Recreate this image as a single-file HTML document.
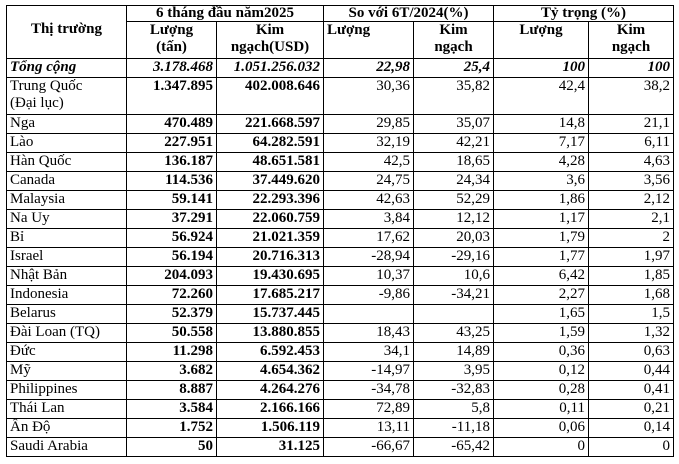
<!DOCTYPE html>
<html><head><meta charset="utf-8"><style>
html,body{margin:0;padding:0;background:#fff;width:679px;height:464px;overflow:hidden}
table{position:absolute;left:6px;top:5px;border-collapse:collapse;table-layout:fixed;font-family:"Liberation Serif",serif;font-size:15px;color:#000}
td{border:1px solid #000;padding:0 3px;line-height:17px;vertical-align:top;white-space:nowrap;overflow:hidden}
.h{font-weight:bold;text-align:center}
.r{text-align:right}
.b{font-weight:bold}
.t td{font-weight:bold;font-style:italic}
tr.n td{height:18px}
</style></head><body>
<table>
<colgroup><col style="width:120px"><col style="width:90px"><col style="width:107px"><col style="width:90px"><col style="width:80px"><col style="width:95px"><col style="width:85px"></colgroup>
<tr style="height:16px"><td rowspan="2" class="h" style="vertical-align:middle;padding-bottom:6px">Thị trường</td><td colspan="2" class="h" style="line-height:15px">6 tháng đầu năm2025</td><td colspan="2" class="h" style="line-height:15px">So với 6T/2024(%)</td><td colspan="2" class="h" style="line-height:15px">Tỷ trọng (%)</td></tr>
<tr style="height:37px"><td class="h">Lượng<br>(tấn)</td><td class="h">Kim<br>ngạch(USD)</td><td class="b" style="text-align:left">Lượng</td><td class="h">Kim<br>ngạch</td><td class="h">Lượng</td><td class="h">Kim<br>ngạch</td></tr>
<tr class="t n" style="height:18px"><td>Tổng cộng</td><td class="r">3.178.468</td><td class="r">1.051.256.032</td><td class="r">22,98</td><td class="r">25,4</td><td class="r">100</td><td class="r">100</td></tr>
<tr style="height:37px"><td>Trung Quốc<br>(Đại lục)</td><td class="r b">1.347.895</td><td class="r b">402.008.646</td><td class="r">30,36</td><td class="r">35,82</td><td class="r">42,4</td><td class="r">38,2</td></tr>
<tr class="n"><td>Nga</td><td class="r b">470.489</td><td class="r b">221.668.597</td><td class="r">29,85</td><td class="r">35,07</td><td class="r">14,8</td><td class="r">21,1</td></tr>
<tr class="n"><td>Lào</td><td class="r b">227.951</td><td class="r b">64.282.591</td><td class="r">32,19</td><td class="r">42,21</td><td class="r">7,17</td><td class="r">6,11</td></tr>
<tr class="n"><td>Hàn Quốc</td><td class="r b">136.187</td><td class="r b">48.651.581</td><td class="r">42,5</td><td class="r">18,65</td><td class="r">4,28</td><td class="r">4,63</td></tr>
<tr class="n"><td>Canada</td><td class="r b">114.536</td><td class="r b">37.449.620</td><td class="r">24,75</td><td class="r">24,34</td><td class="r">3,6</td><td class="r">3,56</td></tr>
<tr class="n"><td>Malaysia</td><td class="r b">59.141</td><td class="r b">22.293.396</td><td class="r">42,63</td><td class="r">52,29</td><td class="r">1,86</td><td class="r">2,12</td></tr>
<tr class="n"><td>Na Uy</td><td class="r b">37.291</td><td class="r b">22.060.759</td><td class="r">3,84</td><td class="r">12,12</td><td class="r">1,17</td><td class="r">2,1</td></tr>
<tr class="n"><td>Bỉ</td><td class="r b">56.924</td><td class="r b">21.021.359</td><td class="r">17,62</td><td class="r">20,03</td><td class="r">1,79</td><td class="r">2</td></tr>
<tr class="n"><td>Israel</td><td class="r b">56.194</td><td class="r b">20.716.313</td><td class="r">-28,94</td><td class="r">-29,16</td><td class="r">1,77</td><td class="r">1,97</td></tr>
<tr class="n"><td>Nhật Bản</td><td class="r b">204.093</td><td class="r b">19.430.695</td><td class="r">10,37</td><td class="r">10,6</td><td class="r">6,42</td><td class="r">1,85</td></tr>
<tr class="n"><td>Indonesia</td><td class="r b">72.260</td><td class="r b">17.685.217</td><td class="r">-9,86</td><td class="r">-34,21</td><td class="r">2,27</td><td class="r">1,68</td></tr>
<tr class="n"><td>Belarus</td><td class="r b">52.379</td><td class="r b">15.737.445</td><td class="r"></td><td class="r"></td><td class="r">1,65</td><td class="r">1,5</td></tr>
<tr class="n"><td>Đài Loan (TQ)</td><td class="r b">50.558</td><td class="r b">13.880.855</td><td class="r">18,43</td><td class="r">43,25</td><td class="r">1,59</td><td class="r">1,32</td></tr>
<tr class="n"><td>Đức</td><td class="r b">11.298</td><td class="r b">6.592.453</td><td class="r">34,1</td><td class="r">14,89</td><td class="r">0,36</td><td class="r">0,63</td></tr>
<tr class="n"><td>Mỹ</td><td class="r b">3.682</td><td class="r b">4.654.362</td><td class="r">-14,97</td><td class="r">3,95</td><td class="r">0,12</td><td class="r">0,44</td></tr>
<tr class="n"><td>Philippines</td><td class="r b">8.887</td><td class="r b">4.264.276</td><td class="r">-34,78</td><td class="r">-32,83</td><td class="r">0,28</td><td class="r">0,41</td></tr>
<tr class="n"><td>Thái Lan</td><td class="r b">3.584</td><td class="r b">2.166.166</td><td class="r">72,89</td><td class="r">5,8</td><td class="r">0,11</td><td class="r">0,21</td></tr>
<tr class="n"><td>Ấn Độ</td><td class="r b">1.752</td><td class="r b">1.506.119</td><td class="r">13,11</td><td class="r">-11,18</td><td class="r">0,06</td><td class="r">0,14</td></tr>
<tr class="n"><td>Saudi Arabia</td><td class="r b">50</td><td class="r b">31.125</td><td class="r">-66,67</td><td class="r">-65,42</td><td class="r">0</td><td class="r">0</td></tr>
</table>
</body></html>
